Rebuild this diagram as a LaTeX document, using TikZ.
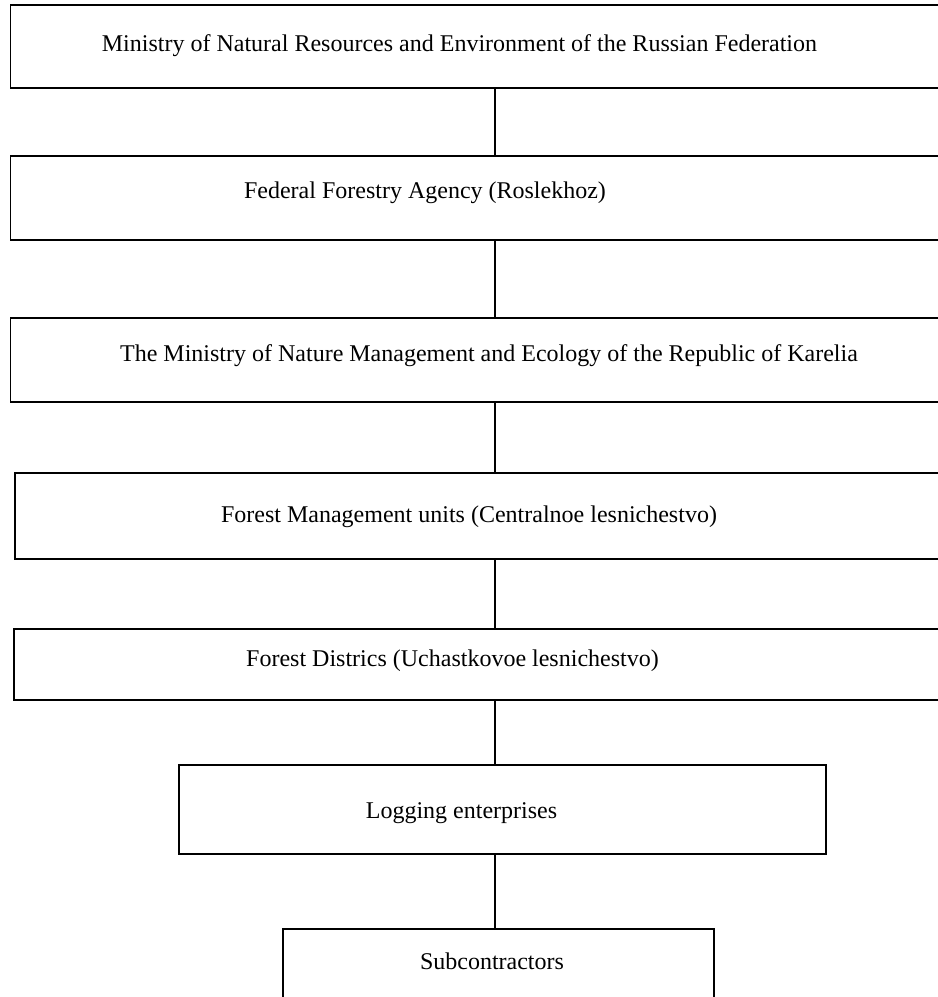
\documentclass[tikz,border=0pt]{standalone}
\usepackage{fontspec}
\setmainfont{Liberation Serif}
\usepackage{tikz}

\begin{document}
\begin{tikzpicture}[x=0.5pt,y=-0.5pt,
        box/.style={draw,line width=0.65pt,rectangle,inner sep=0pt},
        lbl/.style={anchor=base,inner sep=0pt,font=\fontsize{12}{14}\selectfont}]
        \clip (0,0) rectangle (938,997);
        \useasboundingbox (0,0) rectangle (938,997);
        % boxes, the wide ones run off the right edge
        \node[box,minimum width=467.25pt,minimum height=41.5pt] (b1) at (477.75,46.5) {};
        \node[box,minimum width=467.25pt,minimum height=42pt] (b2) at (477.75,198) {};
        \node[box,minimum width=467.25pt,minimum height=42pt] (b3) at (477.75,360) {};
        \node[box,minimum width=465pt,minimum height=43pt] (b4) at (480,516) {};
        \node[box,minimum width=465.5pt,minimum height=35.5pt] (b5) at (479.5,664.5) {};
        \node[box,minimum width=323.5pt,minimum height=44.5pt] (b6) at (502.5,809.5) {};
        \node[box,minimum width=215.5pt,minimum height=40.5pt] (b7) at (498.5,969.5) {};
        % texts
        \node[lbl] (t1) at (459.5,51) {Ministry of Natural Resources and Environment of the Russian Federation};
        \node[lbl] (t2) at (425,198) {Federal Forestry Agency (Roslekhoz)};
        \node[lbl] (t3) at (489,361) {The Ministry of Nature Management and Ecology of the Republic of Karelia};
        \node[lbl] (t4) at (469,522) {Forest Management units (Centralnoe lesnichestvo)};
        \node[lbl] (t5) at (452.5,666) {Forest Districs (Uchastkovoe lesnichestvo)};
        \node[lbl] (t6) at (461.5,818) {Logging enterprises};
        \node[lbl] (t7) at (492,969) {Subcontractors};
        % vertical links
        \coordinate (spine) at (495,0);
        \foreach \a/\b in {b1/b2,b2/b3,b3/b4,b4/b5,b5/b6,b6/b7}
            \draw[line width=0.65pt] (\a.south -| spine) -- (\b.north -| spine);
\end{tikzpicture}
\end{document}
